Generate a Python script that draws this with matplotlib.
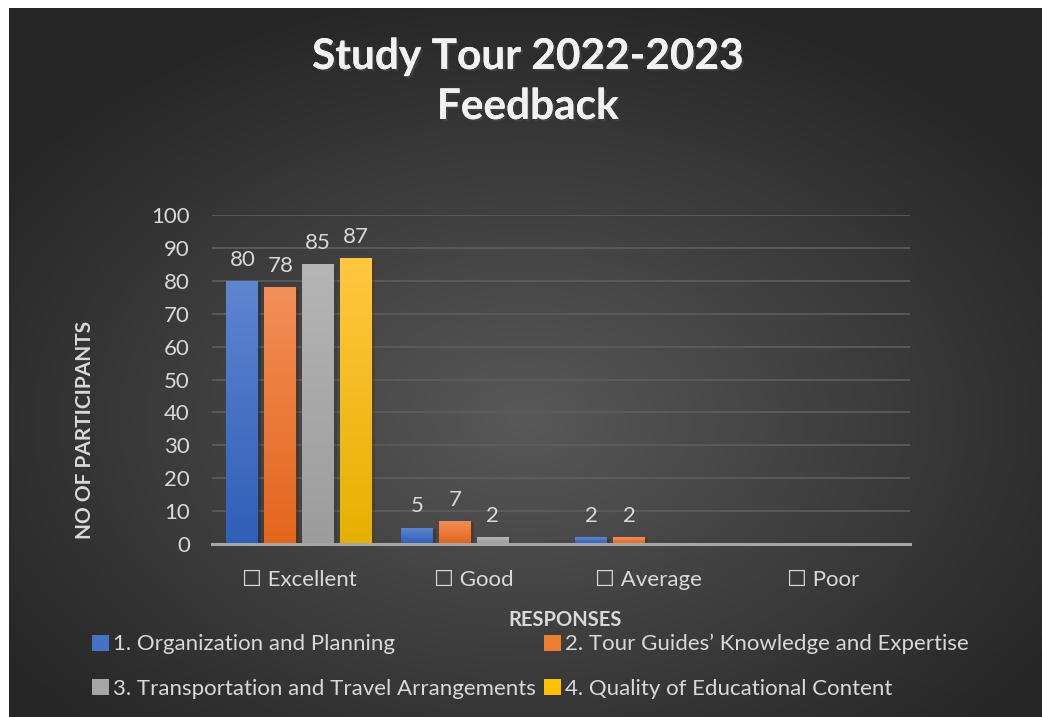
import numpy as np
import matplotlib
matplotlib.use('Agg')
import matplotlib.pyplot as plt
from matplotlib.patches import Patch
from matplotlib.colors import LinearSegmentedColormap
import matplotlib.patheffects as pe

plt.rcParams['font.family'] = ['Lato', 'DejaVu Sans']

# ============ data ============
categories = ['☐ Excellent', '☐ Good', '☐ Average', '☐ Poor']
series_names = [
    '1. Organization and Planning',
    '2. Tour Guides’ Knowledge and Expertise',
    '3. Transportation and Travel Arrangements',
    '4. Quality of Educational Content',
]
org_planning = [80, 5, 2, 0]
guides_knowledge = [78, 7, 2, 0]
transport = [85, 2, 0, 0]
edu_content = [87, 0, 0, 0]
y_ticks = [0, 10, 20, 30, 40, 50, 60, 70, 80, 90, 100]

# top / bottom colours of each bar gradient
BAR_TOP = ['#5f86d0', '#f28f58', '#b5b5b5', '#ffc840']
BAR_BOT = ['#2f5fb7', '#e3651b', '#9c9c9c', '#e6b000']
SOLID = ['#4472c4', '#ed7d31', '#a5a5a5', '#ffc000']
TEXT_C = '#d9d9d9'
# ==============================

W, H = 1042, 717
fig = plt.figure(figsize=(W / 100, H / 100), dpi=100)
fig.patch.set_facecolor('white')

# dark radial background
bg = fig.add_axes([9 / W, 0, 1 - 9 / W, 1 - 8 / H])
bg.set_axis_off()
yy, xx = np.mgrid[0:1:300j, 0:1:430j]
r = np.sqrt(((xx - 0.5) / 0.75) ** 2 + ((yy - 0.42) / 0.75) ** 2)
r = np.clip(r / r.max() * 1.25, 0, 1)
cmap_bg = LinearSegmentedColormap.from_list('bg', ['#585858', '#262626'])
bg.imshow(r, cmap=cmap_bg, aspect='auto', extent=(0, 1, 0, 1), origin='lower')
bg.set_xlim(0, 1)
bg.set_ylim(0, 1)

ax = fig.add_axes([212 / W, 173 / H, 698 / W, 329 / H])
ax.set_facecolor('none')

x = np.arange(len(categories))
step = 0.217
width = 0.183
all_series = [org_planning, guides_knowledge, transport, edu_content]

for i, vals in enumerate(all_series):
    bars = ax.bar(x + (i - 1.5) * step, vals, width, color=SOLID[i],
                  label=series_names[i], zorder=3,
                  path_effects=[pe.SimplePatchShadow(offset=(2, -1), alpha=0.35),
                                pe.Normal()])
    cmap = LinearSegmentedColormap.from_list('g%d' % i, [BAR_BOT[i], BAR_TOP[i]])
    for b, v in zip(bars, vals):
        if v <= 0:
            continue
        x0, w = b.get_x(), b.get_width()
        grad = np.linspace(0, 1, 256).reshape(-1, 1)
        im = ax.imshow(grad, cmap=cmap, aspect='auto', origin='lower',
                       extent=(x0, x0 + w, 0, v), zorder=4)
        im.set_clip_path(b)
        ax.annotate(str(v), (x0 + w / 2, v), xytext=(0, 8),
                    textcoords='offset points', ha='center', va='bottom',
                    fontsize=16, color=TEXT_C, zorder=5)

ax.set_xlim(-0.5, 3.5)
ax.set_ylim(0, 100)
ax.set_yticks(y_ticks)
ax.set_xticks(x)
ax.set_xticklabels(categories)
ax.tick_params(axis='both', length=0, labelsize=16, colors=TEXT_C)
ax.tick_params(axis='x', pad=19)
ax.tick_params(axis='y', pad=16)
ax.grid(axis='y', color='#5e5e5e', linewidth=1.2, zorder=0)
for s in ['top', 'right', 'left']:
    ax.spines[s].set_visible(False)
ax.spines['bottom'].set_color('#a6a6a6')
ax.spines['bottom'].set_linewidth(2.2)
ax.spines['bottom'].set_zorder(6)

# axis titles
fig.text(85 / W, 1 - 430 / H, 'NO OF PARTICIPANTS', rotation=90, ha='center',
         va='center', fontsize=15, fontweight='bold', color=TEXT_C)
fig.text(565 / W, 1 - 620 / H, 'RESPONSES', ha='center', va='center',
         fontsize=14.5, fontweight='bold', color=TEXT_C)

# title
shadow = [pe.withSimplePatchShadow(offset=(1.5, -1.5), alpha=0.6), pe.Normal()]
fig.text(528 / W, 1 - 57 / H, 'Study Tour 2022-2023', ha='center', va='center',
         fontsize=30.5, fontweight='bold', color='#f2f2f2', path_effects=shadow)
fig.text(528 / W, 1 - 107 / H, 'Feedback', ha='center', va='center',
         fontsize=30.5, fontweight='bold', color='#f2f2f2', path_effects=shadow)

# legend, row-major order
handles = [Patch(facecolor=SOLID[i], label=series_names[i]) for i in range(4)]
order = [0, 2, 1, 3]
leg = fig.legend([handles[k] for k in order], [series_names[k] for k in order],
                 ncol=2, loc='upper left', bbox_to_anchor=(81 / W, 1 - 623 / H),
                 frameon=False, fontsize=16, handlelength=0.75, handleheight=0.75,
                 handletextpad=0.2, columnspacing=0.35, labelspacing=1.09,
                 borderpad=0)
for t in leg.get_texts():
    t.set_color(TEXT_C)

fig.savefig('out.png', dpi=100, facecolor=fig.get_facecolor())
